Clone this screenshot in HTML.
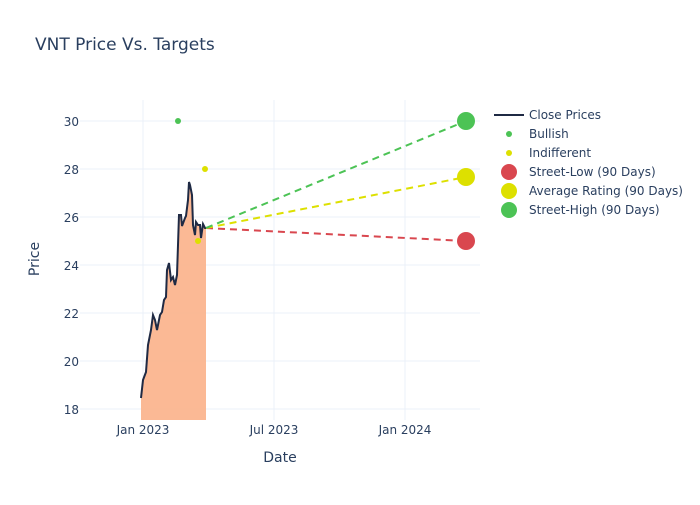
<!DOCTYPE html><html><head><style>body{margin:0;background:#fff}</style></head><body>
<svg width="700" height="500" xmlns="http://www.w3.org/2000/svg" font-family="DejaVu Sans, sans-serif">
<rect width="700" height="500" fill="#fff"/>
<text x="35" y="50" font-size="17" fill="#2a3f5f">VNT Price Vs. Targets</text>
<g stroke="#ebf0f8" stroke-width="1">
<line x1="80" y1="409" x2="480" y2="409"/><line x1="80" y1="361" x2="480" y2="361"/><line x1="80" y1="313" x2="480" y2="313"/><line x1="80" y1="265" x2="480" y2="265"/><line x1="80" y1="217" x2="480" y2="217"/><line x1="80" y1="169" x2="480" y2="169"/><line x1="80" y1="121" x2="480" y2="121"/>
<line x1="143" y1="100" x2="143" y2="420"/><line x1="274" y1="100" x2="274" y2="420"/><line x1="405" y1="100" x2="405" y2="420"/>
</g>
<polygon fill="#fbb58f" opacity="0.95" points="141,420 141,398 143,380 146,372 148,345 151,330 153,315 155,320 157,330 160,315 162,312 164,300 166,297 167,270 169,263 171,280 173,277 175,285 177,275 178,245 179,215 181,215 182,226 185,218 186,216 188,200 189,182 190,185 192,195 193,225 195,235 196,222 198,225 200,225 201,238 203,224 205,228 206,228 206,420"/>
<polyline fill="none" stroke="#1f2a44" stroke-width="2" points="141,398 143,380 146,372 148,345 151,330 153,315 155,320 157,330 160,315 162,312 164,300 166,297 167,270 169,263 171,280 173,277 175,285 177,275 178,245 179,215 181,215 182,226 185,218 186,216 188,200 189,182 190,185 192,195 193,225 195,235 196,222 198,225 200,225 201,238 203,224 205,228 206,228"/>
<line x1="206" y1="228" x2="466" y2="241" stroke="#d9474f" stroke-width="2" stroke-dasharray="7,5"/>
<line x1="206" y1="228" x2="466" y2="177" stroke="#dde000" stroke-width="2" stroke-dasharray="7,5"/>
<line x1="206" y1="228" x2="466" y2="121" stroke="#4cc355" stroke-width="2" stroke-dasharray="7,5"/>
<circle cx="178" cy="121" r="3" fill="#4cc355"/>
<circle cx="205" cy="169" r="3" fill="#dde000"/>
<circle cx="198" cy="241" r="3" fill="#dde000"/>
<circle cx="466" cy="241" r="9" fill="#d9474f"/>
<circle cx="466" cy="177" r="9" fill="#dde000"/>
<circle cx="466" cy="121" r="9" fill="#4cc355"/>
<g font-size="12" fill="#2a3f5f" text-anchor="end">
<text x="79" y="414">18</text><text x="79" y="366">20</text><text x="79" y="318">22</text><text x="79" y="270">24</text><text x="79" y="222">26</text><text x="79" y="174">28</text><text x="79" y="126">30</text></g>
<g font-size="12" fill="#2a3f5f" text-anchor="middle">
<text x="143" y="434">Jan 2023</text><text x="274" y="434">Jul 2023</text><text x="405" y="434">Jan 2024</text></g>
<text x="280" y="462" font-size="14" fill="#2a3f5f" text-anchor="middle">Date</text>
<text transform="translate(39,259) rotate(-90)" font-size="14" fill="#2a3f5f" text-anchor="middle">Price</text>
<g font-size="12" fill="#2a3f5f">
<line x1="494" y1="115" x2="524" y2="115" stroke="#1f2a44" stroke-width="2"/><text x="529" y="119">Close Prices</text>
<circle cx="509" cy="134" r="3" fill="#4cc355"/><text x="529" y="138">Bullish</text>
<circle cx="509" cy="153" r="3" fill="#dde000"/><text x="529" y="157">Indifferent</text>
<circle cx="509" cy="172" r="8" fill="#d9474f"/><text x="529" y="176">Street-Low (90 Days)</text>
<circle cx="509" cy="191" r="8" fill="#dde000"/><text x="529" y="195">Average Rating (90 Days)</text>
<circle cx="509" cy="210" r="8" fill="#4cc355"/><text x="529" y="214">Street-High (90 Days)</text>
</g>
</svg></body></html>
